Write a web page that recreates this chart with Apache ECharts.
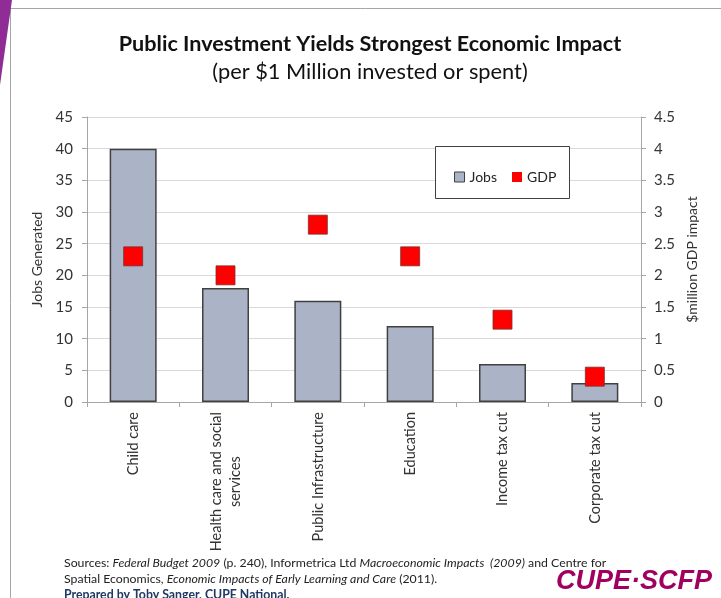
<!DOCTYPE html>
<html><head><meta charset="utf-8">
<script src="https://cdn.jsdelivr.net/npm/echarts@6/dist/echarts.min.js"></script>
<style>html,body{margin:0;padding:0;background:#fff}#c{width:721px;height:598px}</style>
</head><body><div id="c"></div>
<script>
var categories = ['Child care', 'Health care and social\nservices', 'Public Infrastructure', 'Education', 'Income tax cut', 'Corporate tax cut'];
var jobs = [40, 18, 16, 12, 6, 3];
var gdp = [2.3, 2.0, 2.8, 2.3, 1.3, 0.4];
var leftTicks = [0, 5, 10, 15, 20, 25, 30, 35, 40, 45];
var rightTicks = [0, 0.5, 1, 1.5, 2, 2.5, 3, 3.5, 4, 4.5];

var FONT = 'Lato, "Open Sans", sans-serif';
var chart = echarts.init(document.getElementById('c'));
chart.setOption({
  animation: false,
  textStyle: {fontFamily: FONT},
  grid: {left: 87, right: 80, top: 117, bottom: 196},
  legend: {
    left: 449, top: 165, itemWidth: 10, itemHeight: 10, itemGap: 15,
    icon: 'rect', textStyle: {fontFamily: FONT, fontSize: 14, color: '#222'},
    data: [
      {name: 'Jobs', itemStyle: {color: '#aab4c6', borderColor: '#404040', borderWidth: 1}},
      {name: 'GDP', itemStyle: {color: '#ff0000', borderColor: '#ff0000', borderWidth: 0}}
    ]
  },
  xAxis: {
    type: 'category', data: categories,
    axisLine: {lineStyle: {color: '#a6a6a6'}},
    axisTick: {show: true, length: 5, lineStyle: {color: '#a6a6a6'}},
    axisLabel: {
      rotate: 90, interval: 0, margin: 10, fontSize: 14.5, color: '#333', fontFamily: FONT, lineHeight: 19,
      formatter: function (v) { return v.split('\n').map(function (s) { return '{c|' + s + '}'; }).join('\n'); },
      rich: {c: {align: 'center', fontSize: 14.5, color: '#333', fontFamily: FONT, lineHeight: 19}}
    }
  },
  yAxis: [
    {
      type: 'value', min: leftTicks[0], max: leftTicks[leftTicks.length - 1], interval: 5,
      name: 'Jobs Generated', nameLocation: 'middle', nameGap: 35, nameRotate: 90,
      nameTextStyle: {fontSize: 14, color: '#333', fontFamily: FONT},
      axisLine: {show: true, lineStyle: {color: '#a6a6a6'}},
      axisTick: {show: true, length: 5, lineStyle: {color: '#a6a6a6'}},
      axisLabel: {fontSize: 15, color: '#333', margin: 14, fontFamily: FONT},
      splitLine: {lineStyle: {color: '#d9d9d9'}}
    },
    {
      type: 'value', min: rightTicks[0], max: rightTicks[rightTicks.length - 1], interval: 0.5,
      name: '$million GDP impact', nameLocation: 'middle', nameGap: 42, nameRotate: 90,
      nameTextStyle: {fontSize: 14, color: '#333', fontFamily: FONT},
      axisLine: {show: true, lineStyle: {color: '#a6a6a6'}},
      axisTick: {show: true, length: 5, lineStyle: {color: '#a6a6a6'}},
      axisLabel: {fontSize: 15, color: '#333', margin: 13, fontFamily: FONT},
      splitLine: {show: false}
    }
  ],
  series: [
    {
      name: 'Jobs', type: 'bar', data: jobs, barWidth: 47, yAxisIndex: 0,
      itemStyle: {color: '#aab4c6', borderColor: '#404040', borderWidth: 1.5}
    },
    {
      name: 'GDP', type: 'scatter', data: gdp, yAxisIndex: 1, symbol: 'rect', symbolSize: 19,
      itemStyle: {color: '#ff0000', borderColor: '#7a3030', borderWidth: 0.8, opacity: 1}
    }
  ],
  graphic: [
    {type: 'polygon', shape: {points: [[0, 0], [12, 0], [0, 85]]}, style: {fill: '#8f2c96'}, z: 10},
    {type: 'polyline', shape: {points: [[721, 8.5], [10.5, 8.5], [10.5, 598]]}, style: {stroke: '#a6a6a6', lineWidth: 1, fill: null}},
    {type: 'rect', shape: {x: 435.5, y: 146.5, width: 134, height: 52}, style: {fill: '#fff', stroke: '#404040', lineWidth: 1}, z: 1},
    {type: 'text', x: 370, y: 44, style: {text: 'Public Investment Yields Strongest Economic Impact', font: 'bold 21.6px ' + FONT, fill: '#111', textAlign: 'center', textVerticalAlign: 'middle'}},
    {type: 'text', x: 370, y: 72, style: {text: '(per $1 Million invested or spent)', font: '21.8px ' + FONT, fill: '#111', textAlign: 'center', textVerticalAlign: 'middle'}},
    {type: 'text', x: 64, y: 555, style: {
      text: '{n|Sources: }{i|Federal Budget 2009}{n| (p. 240), Informetrica Ltd }{i|Macroeconomic Impacts  (2009)}{n| and Centre for}\n{n|Spatial Economics, }{i|Economic Impacts of Early Learning and Care}{n| (2011).}\n{b|Prepared by Toby Sanger, CUPE National.}',
      rich: {
        n: {fontFamily: FONT, fontSize: 12.3, fill: '#222', lineHeight: 16},
        i: {fontFamily: FONT, fontSize: 12.3, fontStyle: 'italic', fill: '#222', lineHeight: 16},
        b: {fontFamily: FONT, fontSize: 12.3, fontWeight: 'bold', fill: '#1f3864', lineHeight: 16}
      }
    }},
    {type: 'text', x: 712, y: 582, style: {text: 'CUPE·SCFP', font: 'italic 900 27px "Liberation Sans", Arial, sans-serif', fill: '#a0005f', textAlign: 'right', textVerticalAlign: 'middle'}}
  ]
});
</script></body></html>
